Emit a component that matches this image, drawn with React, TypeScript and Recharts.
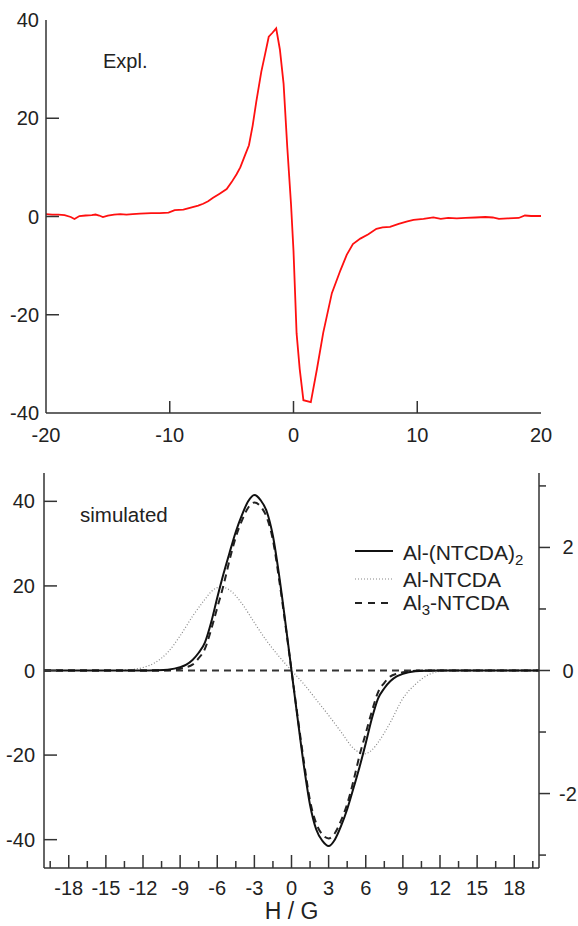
import React from 'react';
import { LineChart, Line, XAxis, YAxis, ReferenceLine, Customized } from 'recharts';

const FONT = '"Liberation Sans", Arial, Helvetica, sans-serif';
const AX = '#333';
const TXT = '#222';

// ---------- Top panel: experimental spectrum ----------
const explX = [
  -20, -19.5, -19, -18.5, -18, -17.7, -17.3, -16.8, -16.3, -16, -15.7, -15.4, -15, -14.5, -14, -13.5, -13,
  -12.4, -11.5, -10.8, -10.1, -9.6, -8.9, -8.3, -7.7, -7.3, -6.9, -6.5, -6.0, -5.4, -5.0, -4.6, -4.3, -3.9,
  -3.6, -3.3, -3.0, -2.6, -2.3, -2.0, -1.7, -1.4, -1.1, -0.8, -0.5, -0.2, 0.0, 0.25, 0.5, 0.8, 1.4, 1.9, 2.4,
  3.1, 3.8, 4.3, 4.8, 5.4, 6.05, 6.7, 7.2, 7.8, 8.5, 9.2, 9.7, 10.5, 11.3, 11.9, 12.5, 13.2, 13.9, 14.7, 15.5,
  16.1, 16.6, 17.3, 18.2, 18.7, 19.2, 20,
];
const explY = [
  0.5, 0.4, 0.4, 0.3, -0.1, -0.5, 0.1, 0.2, 0.3, 0.4, 0.2, -0.1, 0.2, 0.4, 0.5, 0.4, 0.5,
  0.6, 0.7, 0.7, 0.8, 1.3, 1.4, 1.8, 2.2, 2.6, 3.1, 3.8, 4.6, 5.6, 7.0, 8.6, 10.0, 12.6,
  14.5, 18.5, 23.5, 29.5, 33.0, 36.6, 37.4, 38.3, 34.0, 27.0, 14.0, 2.5, -7.0, -23.8, -31.0, -37.4, -37.8, -31.0, -23.7,
  -15.6, -10.9, -7.8, -5.6, -4.5, -3.6, -2.5, -2.2, -2.1, -1.5, -1.0, -0.7, -0.5, -0.2, -0.5, -0.3, -0.4, -0.3, -0.2, -0.1,
  -0.2, -0.5, -0.4, -0.3, 0.2, 0.1, 0.1,
];
const topXTicks = [-20, -10, 0, 10, 20];
const topXTicksTop = [-10, 0, 10];
const topYTicks = [-40, -20, 0, 20, 40];
const topYTicksRight = [-20, 0, 20];

// ---------- Bottom panel: simulated spectra ----------
const simX = [
  -20, -14, -12, -11, -10, -9, -8.5, -8, -7.5, -7, -6.5, -6, -5.5, -5, -4.5, -4, -3.5, -3, -2.5, -2, -1.5, -1, -0.5, 0,
  0.5, 1, 1.5, 2, 2.5, 3, 3.5, 4, 4.5, 5, 5.5, 6, 6.5, 7, 7.5, 8, 8.5, 9, 10, 11, 12, 14, 20,
];
// Al-(NTCDA)2, left axis
const dimerY = [
  0, 0, 0, 0.05, 0.2, 0.8, 1.4, 2.5, 4.2, 6.6, 11.3, 17.2, 22.8, 27.9, 32.8, 36.8, 40.0, 41.5, 40.3, 37.6, 31.8, 22.5, 11.5, 0,
  -11.5, -22.5, -31.8, -37.6, -40.3, -41.5, -40.0, -36.8, -32.8, -27.9, -22.8, -17.2, -11.3, -6.6, -4.2, -2.5, -1.4, -0.8, -0.2, -0.05, 0, 0, 0,
];
// Al3-NTCDA, right axis
const trimerY = [
  0, 0, 0, 0, 0.005, 0.03, 0.055, 0.095, 0.2, 0.35, 0.66, 1.02, 1.38, 1.8, 2.17, 2.44, 2.646, 2.729, 2.667, 2.488, 2.117, 1.478, 0.756, 0,
  -0.756, -1.478, -2.117, -2.488, -2.667, -2.729, -2.646, -2.44, -2.17, -1.8, -1.38, -1.02, -0.66, -0.35, -0.2, -0.095, -0.055, -0.03, -0.005, 0, 0, 0, 0,
];
// Al-NTCDA, left axis
const monoX = [
  -20, -14, -13, -12, -11, -10, -9, -8, -7, -6.5, -6, -5.7, -5, -4, -3, -2, -1, 0,
  1, 2, 3, 4, 5, 5.9, 6.5, 7, 8, 9, 10, 11, 12, 13, 14, 20,
];
const monoY = [
  0, 0, 0.2, 0.7, 1.9, 4.3, 8.2, 12.8, 16.8, 18.6, 19.6, 19.8, 19.0, 15.8, 11.3, 7.0, 3.3, 0,
  -3.2, -6.9, -10.6, -14.5, -18.4, -19.7, -18.8, -17.0, -12.2, -6.6, -3.3, -1.1, -0.2, 0, 0, 0,
];
const botXTicks = [
  -19.5, -18, -16.5, -15, -13.5, -12, -10.5, -9, -7.5, -6, -4.5, -3, -1.5, 0,
  1.5, 3, 4.5, 6, 7.5, 9, 10.5, 12, 13.5, 15, 16.5, 18, 19.5,
];
const botYTicksLeft = [-40, -20, 0, 20, 40];
const botYTicksRight = [-3, -2, -1, 0, 1, 2, 3];
const botYLabelsRight = [-2, 0, 2];

const seriesNames = ['Al-(NTCDA)', 'Al-NTCDA', 'Al', '-NTCDA'];

const explData = explX.map((x, i) => ({ x, y: explY[i] }));
const dimerData = simX.map((x, i) => ({ x, y: dimerY[i] }));
const trimerData = simX.map((x, i) => ({ x, y: trimerY[i] }));
const monoData = monoX.map((x, i) => ({ x, y: monoY[i] }));

const isMul3 = (v: number) => Math.abs(v / 3 - Math.round(v / 3)) < 1e-6;

// ---------- tick renderers ----------
const TopChartBottomTick = (p: any) => {
  const { x, y, payload } = p;
  const v = payload.value;
  const inner = Math.abs(v) < 20;
  return (
    <g>
      {inner && <line x1={x} x2={x} y1={y} y2={y - 12} stroke={AX} strokeWidth={1.5} />}
      <text x={x} y={y + 22} textAnchor="middle" dominantBaseline="central" fontSize={20} fill={TXT} fontFamily={FONT}>
        {v}
      </text>
    </g>
  );
};
const TopChartTopTick = (p: any) => {
  const { x, y } = p;
  return <line x1={x} x2={x} y1={y} y2={y + 12} stroke={AX} strokeWidth={1.5} />;
};
const TopChartLeftTick = (p: any) => {
  const { x, y, payload } = p;
  const v = payload.value;
  return (
    <g>
      {Math.abs(v) < 40 && <line x1={x} x2={x + 13} y1={y} y2={y} stroke={AX} strokeWidth={1.5} />}
      <text x={x - 7} y={y} textAnchor="end" dominantBaseline="central" fontSize={20} fill={TXT} fontFamily={FONT}>
        {v}
      </text>
    </g>
  );
};
const TopChartRightTick = (p: any) => {
  const { x, y } = p;
  return <line x1={x} x2={x - 13} y1={y} y2={y} stroke={AX} strokeWidth={1.5} />;
};

const BotBottomTick = (p: any) => {
  const { x, y, payload } = p;
  const v = payload.value;
  const major = isMul3(v);
  return (
    <g>
      <line x1={x} x2={x} y1={y} y2={y - (major ? 13 : 7)} stroke={AX} strokeWidth={1.5} />
      {major && (
        <text x={x} y={y + 20} textAnchor="middle" dominantBaseline="central" fontSize={20} fill={TXT} fontFamily={FONT}>
          {v}
        </text>
      )}
    </g>
  );
};
const BotTopTick = (p: any) => {
  const { x, y, payload } = p;
  const major = isMul3(payload.value);
  return <line x1={x} x2={x} y1={y} y2={y + (major ? 13 : 7)} stroke={AX} strokeWidth={1.5} />;
};
const BotLeftTick = (p: any) => {
  const { x, y, payload } = p;
  return (
    <g>
      <line x1={x} x2={x + 13} y1={y} y2={y} stroke={AX} strokeWidth={1.5} />
      <text x={x - 9} y={y} textAnchor="end" dominantBaseline="central" fontSize={20} fill={TXT} fontFamily={FONT}>
        {payload.value}
      </text>
    </g>
  );
};
const BotRightTick = (p: any) => {
  const { x, y, payload } = p;
  const v = payload.value;
  const labelled = botYLabelsRight.includes(v);
  return (
    <g>
      <line x1={x} x2={x + (labelled ? 11 : 7)} y1={y} y2={y} stroke={AX} strokeWidth={1.5} />
      {labelled && (
        <text x={x + 29} y={y} textAnchor="middle" dominantBaseline="central" fontSize={20} fill={TXT} fontFamily={FONT}>
          {v}
        </text>
      )}
    </g>
  );
};

const TopAnnot = () => (
  <text x={103} y={68} fontSize={20} fill={TXT} fontFamily={FONT}>
    Expl.
  </text>
);

const BotAnnot = () => (
  <g fontFamily={FONT} fill={TXT}>
    <text x={80} y={72} fontSize={20.5}>simulated</text>
    <line x1={355} x2={393} y1={101} y2={101} stroke="#111" strokeWidth={2} />
    <text x={403} y={110} fontSize={21}>
      {seriesNames[0]}
      <tspan fontSize={15} dy={5}>2</tspan>
    </text>
    <line x1={355} x2={393} y1={129} y2={129} stroke="#888" strokeWidth={1.2} strokeDasharray="1 2" />
    <text x={403} y={137} fontSize={21}>{seriesNames[1]}</text>
    <line x1={355} x2={393} y1={153} y2={153} stroke="#222" strokeWidth={2} strokeDasharray="7 6" />
    <text x={403} y={160} fontSize={21}>
      {seriesNames[2]}
      <tspan fontSize={15} dy={5}>3</tspan>
      <tspan dy={-5}>{seriesNames[3]}</tspan>
    </text>
    <text x={291.5} y={469} fontSize={23} textAnchor="middle">H / G</text>
  </g>
);

const axisLine = { stroke: AX, strokeWidth: 1.5 };

export default function App() {
  return (
    <div style={{ position: 'absolute', left: 0, top: 0, width: 578, height: 926, background: '#fff' }}>
      <div style={{ position: 'absolute', left: 0, top: 0 }}>
        <LineChart width={578} height={445} margin={{ top: 20, right: 37, bottom: 0, left: 0 }}>
          <XAxis
            xAxisId="b"
            type="number"
            dataKey="x"
            domain={[-20, 20]}
            allowDataOverflow
            ticks={topXTicks}
            interval={0}
            tickSize={0}
            tickMargin={0}
            tickLine={false}
            axisLine={axisLine}
            tick={TopChartBottomTick}
            height={32}
          />
          <XAxis
            xAxisId="t"
            orientation="top"
            type="number"
            domain={[-20, 20]}
            allowDataOverflow
            ticks={topXTicksTop}
            interval={0}
            tickSize={0}
            tickMargin={0}
            tickLine={false}
            axisLine={axisLine}
            tick={TopChartTopTick}
            height={0}
          />
          <YAxis
            yAxisId="l"
            type="number"
            domain={[-40, 40]}
            allowDataOverflow
            ticks={topYTicks}
            interval={0}
            tickSize={0}
            tickMargin={0}
            tickLine={false}
            axisLine={axisLine}
            tick={TopChartLeftTick}
            width={46}
          />
          <YAxis
            yAxisId="r"
            orientation="right"
            type="number"
            domain={[-40, 40]}
            allowDataOverflow
            ticks={topYTicksRight}
            interval={0}
            tickSize={0}
            tickMargin={0}
            tickLine={false}
            axisLine={axisLine}
            tick={TopChartRightTick}
            width={0}
          />
          <Line
            data={explData}
            xAxisId="b"
            yAxisId="l"
            dataKey="y"
            type="linear"
            stroke="#ff1010"
            strokeWidth={1.8}
            dot={false}
            activeDot={false}
            isAnimationActive={false}
          />
          <Customized component={TopAnnot} />
        </LineChart>
      </div>
      <div style={{ position: 'absolute', left: 0, top: 450 }}>
        <LineChart width={578} height={476} margin={{ top: 23, right: 0, bottom: 0, left: 0 }}>
          <XAxis
            xAxisId="b"
            type="number"
            dataKey="x"
            domain={[-20, 20]}
            allowDataOverflow
            ticks={botXTicks}
            interval={0}
            tickSize={0}
            tickMargin={0}
            tickLine={false}
            axisLine={axisLine}
            tick={BotBottomTick}
            height={58}
          />
          <XAxis
            xAxisId="t"
            orientation="top"
            type="number"
            domain={[-20, 20]}
            allowDataOverflow
            ticks={botXTicks}
            interval={0}
            tickSize={0}
            tickMargin={0}
            tickLine={false}
            axisLine={axisLine}
            tick={BotTopTick}
            height={0}
          />
          <YAxis
            yAxisId="l"
            type="number"
            domain={[-46.7, 46.7]}
            allowDataOverflow
            ticks={botYTicksLeft}
            interval={0}
            tickSize={0}
            tickMargin={0}
            tickLine={false}
            axisLine={axisLine}
            tick={BotLeftTick}
            width={44}
          />
          <YAxis
            yAxisId="r"
            orientation="right"
            type="number"
            domain={[-3.21, 3.21]}
            allowDataOverflow
            ticks={botYTicksRight}
            interval={0}
            tickSize={0}
            tickMargin={0}
            tickLine={false}
            axisLine={axisLine}
            tick={BotRightTick}
            width={39}
          />
          <ReferenceLine xAxisId="b" yAxisId="l" y={0} stroke="#333" strokeWidth={2} strokeDasharray="7 5" />
          <Line
            data={monoData}
            xAxisId="b"
            yAxisId="l"
            dataKey="y"
            type="monotone"
            stroke="#888"
            strokeWidth={1.2}
            strokeDasharray="1 2"
            dot={false}
            activeDot={false}
            isAnimationActive={false}
          />
          <Line
            data={trimerData}
            xAxisId="b"
            yAxisId="r"
            dataKey="y"
            type="monotone"
            stroke="#222"
            strokeWidth={2}
            strokeDasharray="7 5"
            dot={false}
            activeDot={false}
            isAnimationActive={false}
          />
          <Line
            data={dimerData}
            xAxisId="b"
            yAxisId="l"
            dataKey="y"
            type="monotone"
            stroke="#111"
            strokeWidth={2}
            dot={false}
            activeDot={false}
            isAnimationActive={false}
          />
          <Customized component={BotAnnot} />
        </LineChart>
      </div>
    </div>
  );
}
